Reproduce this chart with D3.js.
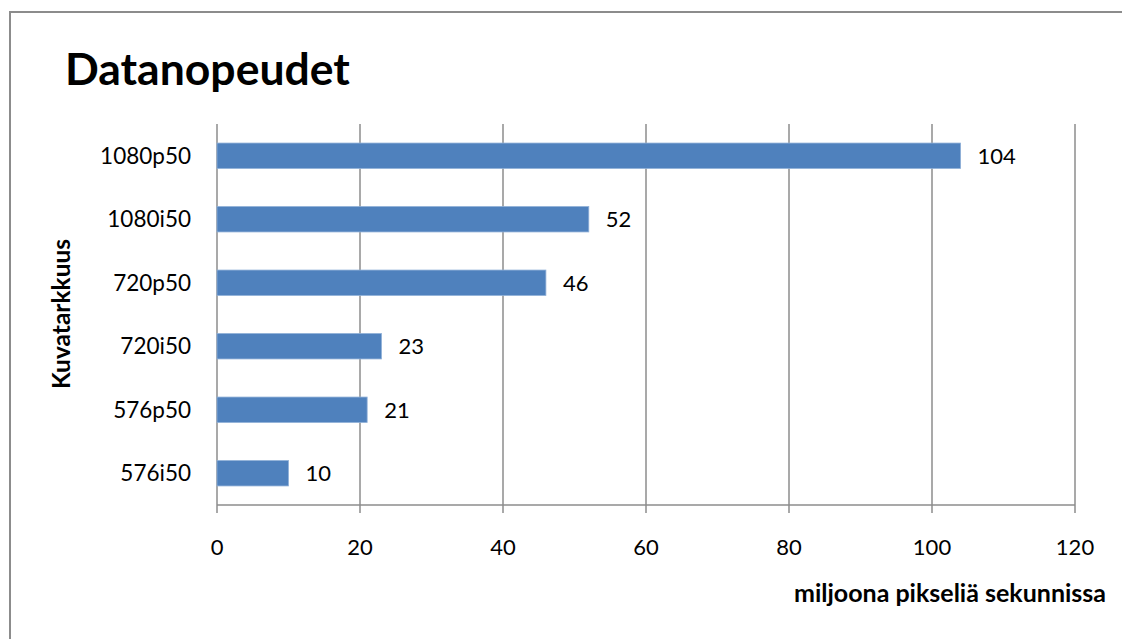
<!DOCTYPE html>
<html>
<head>
<meta charset="utf-8">
<title>Datanopeudet</title>
<script src="https://d3js.org/d3.v7.min.js"></script>
<style>
  body { margin: 0; background: #fff; }
  text { font-family: Lato, "Open Sans", sans-serif; fill: #000; }
</style>
</head>
<body>
<div id="chart"></div>
<script>
// data
const categories = ["1080p50", "1080i50", "720p50", "720i50", "576p50", "576i50"];
const values = [104, 52, 46, 23, 21, 10];
const xTicks = [0, 20, 40, 60, 80, 100, 120];

const W = 1122, H = 639;
const margin = {top: 124, right: 47, bottom: 134, left: 217};
const width = W - margin.left - margin.right;
const height = H - margin.top - margin.bottom;

const svg = d3.select("#chart").append("svg")
  .attr("width", W).attr("height", H);

// outer frame
svg.append("rect")
  .attr("x", 10).attr("y", 12)
  .attr("width", W).attr("height", H)
  .attr("fill", "none").attr("stroke", "#8c8c8c").attr("stroke-width", 2);

svg.append("text")
  .attr("x", 65).attr("y", 85)
  .style("font-size", "44.5px").style("font-weight", "bold")
  .text("Datanopeudet");

const g = svg.append("g").attr("transform", `translate(${margin.left},${margin.top})`);

const x = d3.scaleLinear().domain([0, 120]).range([0, width]);
const y = d3.scaleBand().domain(categories).range([0, height]).paddingInner(0.6).paddingOuter(0.3);

// gridlines
g.selectAll(".grid").data(xTicks).enter().append("line")
  .attr("x1", d => x(d)).attr("x2", d => x(d))
  .attr("y1", 0).attr("y2", height + 8)
  .attr("stroke", "#8c8c8c").attr("stroke-width", 1.5);

// x axis line
g.append("line")
  .attr("x1", 0).attr("x2", width)
  .attr("y1", height).attr("y2", height)
  .attr("stroke", "#8c8c8c").attr("stroke-width", 1.5);

g.selectAll(".xlab").data(xTicks).enter().append("text")
  .attr("x", d => x(d)).attr("y", height + 50)
  .attr("text-anchor", "middle")
  .style("font-size", "22px")
  .text(d => d);

// bars
g.selectAll(".bar").data(values).enter().append("rect")
  .attr("x", 0)
  .attr("y", (d, i) => y(categories[i]))
  .attr("width", d => x(d))
  .attr("height", y.bandwidth())
  .attr("fill", "#4f81bd")
  .attr("stroke", "#8fb0d8").attr("stroke-width", 0.8);

g.selectAll(".val").data(values).enter().append("text")
  .attr("x", d => x(d) + 17)
  .attr("y", (d, i) => y(categories[i]) + y.bandwidth() / 2)
  .attr("dy", "0.36em")
  .style("font-size", "22px")
  .text(d => d);

g.selectAll(".cat").data(categories).enter().append("text")
  .attr("x", -26)
  .attr("y", d => y(d) + y.bandwidth() / 2)
  .attr("dy", "0.36em")
  .attr("text-anchor", "end")
  .style("font-size", "22.5px")
  .text(d => d);

// axis titles
svg.append("text")
  .attr("x", 1106).attr("y", 602)
  .attr("text-anchor", "end")
  .style("font-size", "25px").style("font-weight", "bold")
  .text("miljoona pikseliä sekunnissa");

svg.append("text")
  .attr("transform", "translate(70,314) rotate(-90)")
  .attr("text-anchor", "middle")
  .style("font-size", "24.5px").style("font-weight", "bold")
  .text("Kuvatarkkuus");
</script>
</body>
</html>
